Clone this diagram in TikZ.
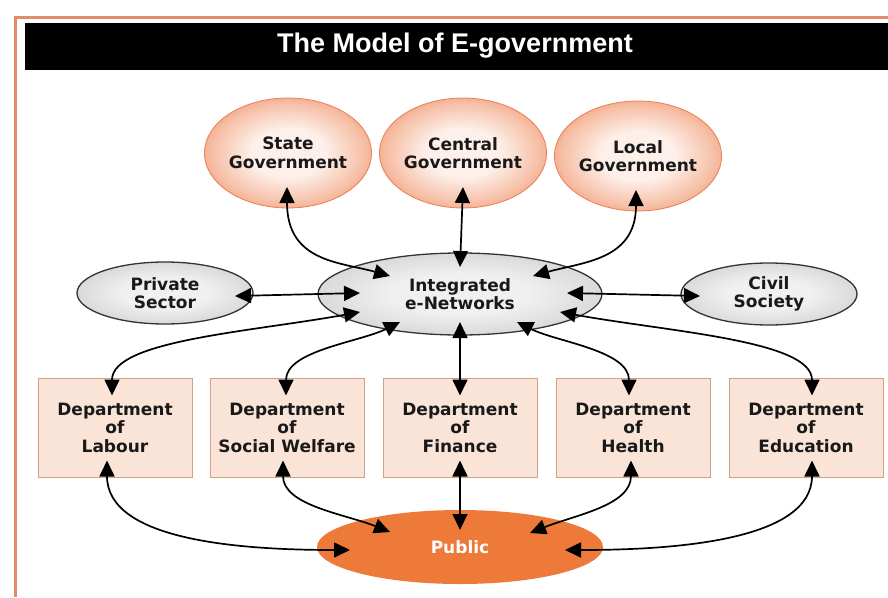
\documentclass[tikz,border=0pt]{standalone}
\usepackage{fontspec}
\setmainfont{DejaVu Sans}
\newfontfamily\titlefont{Liberation Sans}
\usetikzlibrary{shapes.geometric,arrows.meta,calc}
\definecolor{frameor}{RGB}{226,138,106}
\definecolor{govin}{RGB}{253,240,234}
\definecolor{govmid}{RGB}{246,190,164}
\definecolor{govout}{RGB}{236,128,86}
\definecolor{govedge}{RGB}{232,128,88}
\definecolor{grayin}{RGB}{240,240,240}
\definecolor{graymid}{RGB}{216,216,216}
\definecolor{grayout}{RGB}{184,184,184}
\definecolor{deptfill}{RGB}{250,228,216}
\definecolor{deptedge}{RGB}{214,160,136}
\definecolor{pubfill}{RGB}{238,122,58}
\pgfdeclareradialshading{govshade}{\pgfpoint{0bp}{0bp}}{color(0bp)=(govin); color(11bp)=(govin); color(23bp)=(govmid); color(33bp)=(govout); color(50bp)=(govout)}
\pgfdeclareradialshading{grayshade}{\pgfpoint{0bp}{0bp}}{color(0bp)=(grayin); color(12bp)=(grayin); color(26bp)=(graymid); color(36bp)=(grayout); color(50bp)=(grayout)}
\begin{document}
\begin{tikzpicture}[x=1pt,y=-1pt,
  lbl/.style={font=\fontsize{17}{18.5}\selectfont\bfseries, text=black!90, align=center},
  gov/.style={ellipse, minimum width=150pt, minimum height=110pt, inner sep=0pt,
    draw=govedge, line width=0.8pt, shading=govshade, lbl},
  grayell/.style={ellipse, inner sep=0pt, draw=black!80, line width=1.3pt,
    shading=grayshade, lbl},
  dept/.style={rectangle, minimum width=154pt, minimum height=99pt, inner sep=0pt,
    draw=deptedge, line width=1pt, fill=deptfill, lbl},
  con/.style={line width=1.7pt, draw=black,
    {Triangle[length=16pt,width=15pt]}-{Triangle[length=16pt,width=15pt]}}
]
\useasboundingbox (0,0) rectangle (888,597);
\fill[white] (0,0) rectangle (888,597);
% frame
\draw[frameor, line width=3pt] (888,17) -- (15,17) -- (15,597);
\fill[black] (25,23) rectangle (888,70);
\node[font=\titlefont\fontsize{27}{27}\selectfont\bfseries, text=white] (title) at (455,46) {The Model of E-government};

% government
\node[gov] (state) at (288,153) {State\\Government};
\node[gov] (central) at (463,153) {Central\\Government};
\node[gov] (local) at (638,156) {Local\\Government};

% middle row
\node[grayell, minimum width=284pt, minimum height=82pt] (net) at (460,294) {Integrated\\e-Networks};
\node[grayell, minimum width=176pt, minimum height=62pt] (priv) at (165,293) {Private\\Sector};
\node[grayell, minimum width=176pt, minimum height=62pt] (civil) at (769,294) {Civil\\Society};

% departments
\node[dept] (lab) at (115,427.5) {Department\\of\\Labour};
\node[dept] (soc) at (287,427.5) {Department\\of\\Social Welfare};
\node[dept] (fin) at (460,427.5) {Department\\of\\Finance};
\node[dept] (hea) at (633,427.5) {Department\\of\\Health};
\node[dept] (edu) at (806,427.5) {Department\\of\\Education};

% public
\node[ellipse, minimum width=286pt, minimum height=74pt, fill=pubfill, inner sep=0pt,
  font=\fontsize{17}{18.5}\selectfont\bfseries, text=white] (pub) at (460,547) {Public};

% arrow end points inside nodes
\coordinate (stateT) at ($(state.center)+(-1,34)$);
\coordinate (centralT) at ($(central.center)+(0,34)$);
\coordinate (localT) at ($(local.center)+(-2,34)$);
\coordinate (privT) at ($(priv.center)+(70,3)$);
\coordinate (civilT) at ($(civil.center)+(-69,2)$);
\coordinate (netUL) at ($(net.center)+(-70,-18)$);
\coordinate (netT) at ($(net.center)+(0,-27)$);
\coordinate (netUR) at ($(net.center)+(73,-18)$);
\coordinate (netL) at ($(net.center)+(-100,-1)$);
\coordinate (netR) at ($(net.center)+(107,-1)$);
\coordinate (netBL1) at ($(net.center)+(-100,18)$);
\coordinate (netBL2) at ($(net.center)+(-60,28)$);
\coordinate (netB) at ($(net.center)+(0,28)$);
\coordinate (netBR2) at ($(net.center)+(57,28)$);
\coordinate (netBR1) at ($(net.center)+(100,18)$);
\coordinate (labT) at ($(lab.center)+(-3,-32)$);
\coordinate (labB) at ($(lab.center)+(-8,33)$);
\coordinate (socT) at ($(soc.center)+(-1,-32)$);
\coordinate (socB) at ($(soc.center)+(-4,33)$);
\coordinate (finT) at ($(fin.center)+(0,-32)$);
\coordinate (finB) at ($(fin.center)+(0,33)$);
\coordinate (heaT) at ($(hea.center)+(-4,-32)$);
\coordinate (heaB) at ($(hea.center)+(-2,33)$);
\coordinate (eduT) at ($(edu.center)+(6,-32)$);
\coordinate (eduB) at ($(edu.center)+(6,33)$);
\coordinate (pubL) at ($(pub.center)+(-110,3)$);
\coordinate (pubUL) at ($(pub.center)+(-70,-15)$);
\coordinate (pubT) at ($(pub.center)+(0,-17)$);
\coordinate (pubUR) at ($(pub.center)+(70,-14)$);
\coordinate (pubR) at ($(pub.center)+(105,3)$);

% connectors
\draw[con] (stateT) .. controls +(0,75) and +(-50,-14) .. (netUL);
\draw[con] (centralT) -- (netT);
\draw[con] (localT) .. controls +(0,70) and +(50,-14) .. (netUR);
\draw[con] (privT) -- (netL);
\draw[con] (netR) -- (civilT);
\draw[con] (labT) .. controls +(0,-55) and +(-110,20) .. (netBL1);
\draw[con] (socT) .. controls +(0,-45) and +(-40,20) .. (netBL2);
\draw[con] (finT) -- (netB);
\draw[con] (heaT) .. controls +(0,-45) and +(40,20) .. (netBR2);
\draw[con] (eduT) .. controls +(0,-55) and +(110,20) .. (netBR1);
\draw[con] (labB) .. controls +(0,80) and +(-110,0) .. (pubL);
\draw[con] (socB) .. controls +(0,45) and +(-45,-18) .. (pubUL);
\draw[con] (finB) -- (pubT);
\draw[con] (heaB) .. controls +(0,45) and +(45,-18) .. (pubUR);
\draw[con] (eduB) .. controls +(0,80) and +(110,0) .. (pubR);
\end{tikzpicture}
\end{document}
